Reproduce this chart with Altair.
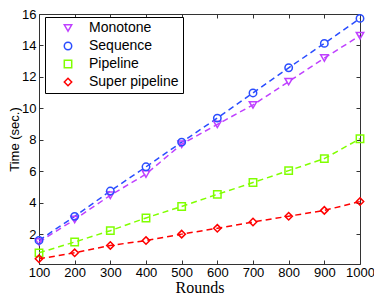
import altair as alt
import pandas as pd

rounds = [100, 200, 300, 400, 500, 600, 700, 800, 900, 1000]
monotone = [1.50, 2.93, 4.47, 5.82, 7.72, 8.98, 10.22, 11.70, 13.20, 14.62]
sequence = [1.60, 3.13, 4.74, 6.28, 7.85, 9.38, 10.98, 12.58, 14.13, 15.72]
pipeline = [0.81, 1.50, 2.22, 3.03, 3.76, 4.53, 5.28, 6.04, 6.80, 8.07]
super_pipeline = [0.43, 0.81, 1.28, 1.59, 2.00, 2.37, 2.77, 3.14, 3.51, 4.07]

series_names = ["Monotone", "Sequence", "Pipeline", "Super pipeline"]
series_values = [monotone, sequence, pipeline, super_pipeline]
colors = ["#bf40ff", "#2a4dff", "#80ff00", "#ff0000"]
shapes = ["triangle-down", "circle", "square", "diamond"]
x_ticks = [100, 200, 300, 400, 500, 600, 700, 800, 900, 1000]
y_ticks = [2, 4, 6, 8, 10, 12, 14, 16]

rows = []
for name, vals in zip(series_names, series_values):
    for r, v in zip(rounds, vals):
        rows.append({"Rounds": r, "Time": v, "Series": name})
df = pd.DataFrame(rows)

W, H = 321, 250
sans = "Liberation Sans"
serif = "Liberation Serif"

xscale = alt.Scale(domain=[100, 1000], nice=False, zero=False)
yscale = alt.Scale(domain=[0.1, 16], nice=False, zero=False)

tick_common = dict(values=x_ticks, labels=False, ticks=True, tickSize=4,
                   tickColor="#333333", domain=False, grid=False, title="")
ytick_common = dict(values=y_ticks, labels=False, ticks=True, tickSize=4,
                    tickColor="#333333", domain=False, grid=False, title="")

xA = alt.Axis(orient="bottom", values=x_ticks, ticks=False, domain=False, grid=False,
              format="d", labelFlush=False,
              labelFont=sans, labelFontSize=13, labelColor="black", labelPadding=2,
              labelOverlap=False,
              title="Rounds", titleFont=serif, titleFontSize=16, titleFontWeight="normal",
              titleColor="black", titlePadding=0)
yA = alt.Axis(orient="left", values=y_ticks, ticks=False, domain=False, grid=False,
              format="d", labelFlush=False,
              labelFont=sans, labelFontSize=13, labelColor="black", labelPadding=3,
              labelOverlap=False,
              title="Time (sec.)", titleFont=sans, titleFontSize=13, titleFontWeight="normal",
              titleColor="black", titlePadding=0)
xB = alt.Axis(orient="top", offset=-H, **tick_common)
yB = alt.Axis(orient="right", offset=-W, **ytick_common)
xC = alt.Axis(orient="bottom", offset=-H, **tick_common)
yC = alt.Axis(orient="left", offset=-W, **ytick_common)

legend = alt.Legend(title=None, orient="none", legendX=6, legendY=3,
                    strokeColor="black", fillColor="white", padding=4,
                    symbolOffset=12,
                    labelFont=sans, labelFontSize=14, labelColor="black",
                    labelExpr="datum.label + '\u00a0'",
                    symbolSize=55, symbolStrokeWidth=1.5, rowPadding=4, labelOffset=14)

color = alt.Color("Series:N", scale=alt.Scale(domain=series_names, range=colors),
                  sort=series_names, legend=legend)
shape = alt.Shape("Series:N", scale=alt.Scale(domain=series_names, range=shapes),
                  sort=series_names, legend=legend)

base = alt.Chart(df)

lines = base.mark_line(strokeDash=[6, 4], strokeWidth=1.5).encode(
    x=alt.X("Rounds:Q", scale=xscale, axis=xA),
    y=alt.Y("Time:Q", scale=yscale, axis=yA),
    color=color,
)
points = base.mark_point(filled=False, strokeWidth=1.5, size=55, opacity=1).encode(
    x=alt.X("Rounds:Q", scale=xscale, axis=xB),
    y=alt.Y("Time:Q", scale=yscale, axis=yB),
    color=color,
    shape=shape,
)
ghost = base.mark_point(opacity=0).encode(
    x=alt.X("Rounds:Q", scale=xscale, axis=xC),
    y=alt.Y("Time:Q", scale=yscale, axis=yC),
)

chart = alt.layer(lines, points, ghost).resolve_axis(
    x="independent", y="independent"
).properties(
    width=W, height=H,
    autosize=alt.AutoSizeParams(type="none"),
    padding={"left": 31, "top": 6, "right": 14, "bottom": 33},
).configure_view(stroke="#333333", strokeWidth=1)

chart.save("out.html", embed_options={"renderer": "svg", "actions": False})
